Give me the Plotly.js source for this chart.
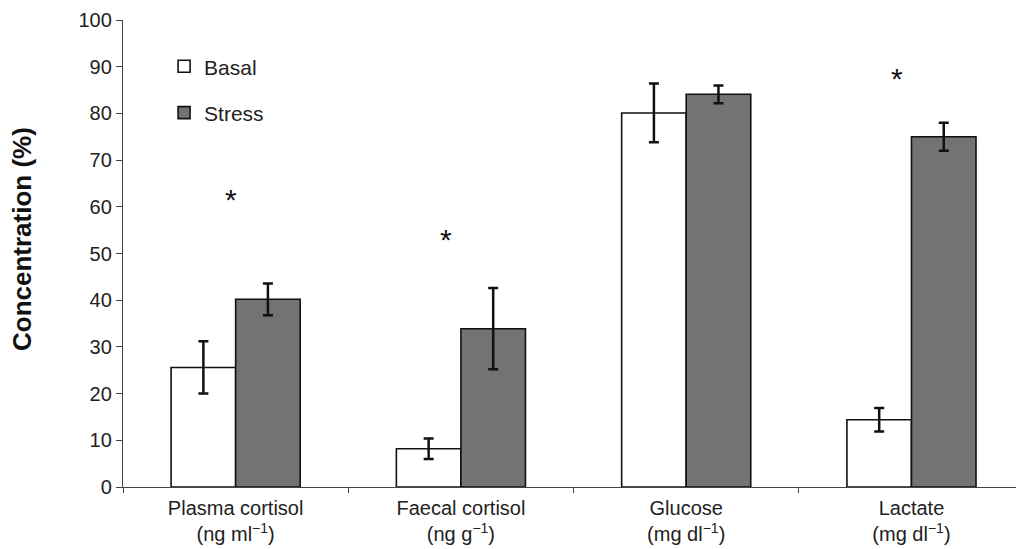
<!DOCTYPE html>
<html>
<head>
<meta charset="utf-8">
<script src="https://cdn.plot.ly/plotly-3.0.1.min.js"></script>
<style>html,body{margin:0;padding:0;background:#fff;}#chart{width:1016px;height:549px;}</style>
</head>
<body>
<div id="chart"></div>
<script>
var categories = ["Plasma cortisol<br>(ng ml<sup>−1</sup>)", "Faecal cortisol<br>(ng g<sup>−1</sup>)", "Glucose<br>(mg dl<sup>−1</sup>)", "Lactate<br>(mg dl<sup>−1</sup>)"];
var basalValues = [25.6, 8.2, 80.1, 14.4];
var basalErrors = [5.6, 2.2, 6.3, 2.5];
var stressValues = [40.2, 33.9, 84.1, 75.0];
var stressErrors = [3.4, 8.7, 1.9, 3.0];
var starX = [-0.02, 0.935, 2.935];
var starY = [62.1, 53.7, 88.1];
var yTitle = "Concentration (%)";

var font = "Liberation Sans, Arial, sans-serif";

var traces = [
  {
    type: "bar", name: "Basal", x: categories, y: basalValues,
    marker: {color: "#ffffff", line: {color: "#111111", width: 1.6}},
    error_y: {type: "data", array: basalErrors, visible: true, color: "#111111", thickness: 2.5, width: 5},
    legendgroup: "a"
  },
  {
    type: "bar", name: "Stress", x: categories, y: stressValues,
    marker: {color: "#737373", line: {color: "#111111", width: 1.6}},
    error_y: {type: "data", array: stressErrors, visible: true, color: "#111111", thickness: 2.5, width: 5},
    legendgroup: "b"
  }
];

var annotations = starX.map(function (x, i) {
  return {x: x, y: starY[i], xref: "x", yref: "y", text: "*", showarrow: false,
    font: {family: font, size: 30, color: "#111"}, yshift: -3};
});
annotations.push({
  x: 0, y: 0.531, xref: "paper", yref: "paper", xanchor: "center", yanchor: "middle",
  xshift: -101, textangle: -90, showarrow: false,
  text: "<b>" + yTitle + "</b>", font: {family: font, size: 26, color: "#111"}
});

var layout = {
  width: 1016, height: 549,
  margin: {l: 123, r: 0, t: 20, b: 62},
  paper_bgcolor: "#fff", plot_bgcolor: "#fff",
  barmode: "group", bargap: 0.427, bargroupgap: 0,
  font: {family: font, size: 20, color: "#222"},
  showlegend: true,
  legend: {x: 0.046, y: 0.944, xanchor: "left", yanchor: "top", bgcolor: "rgba(0,0,0,0)",
    font: {family: font, size: 21, color: "#222"}, tracegroupgap: 16, traceorder: "grouped"},
  xaxis: {
    type: "category", range: [-0.5, 3.464], showgrid: false, zeroline: false,
    showline: true, linecolor: "#444", linewidth: 1.2,
    ticks: "outside", tickson: "boundaries", ticklen: 5, tickcolor: "#444",
    ticklabelstandoff: 3,
    tickfont: {family: font, size: 20, color: "#222"}
  },
  yaxis: {
    range: [0, 100], dtick: 10, showgrid: false, zeroline: false,
    showline: true, linecolor: "#444", linewidth: 1.2,
    ticks: "outside", ticklen: 6, tickcolor: "#444",
    tickfont: {family: font, size: 20, color: "#222"}
  },
  annotations: annotations
};

Plotly.newPlot("chart", traces, layout, {displayModeBar: false, staticPlot: true});
</script>
</body>
</html>
